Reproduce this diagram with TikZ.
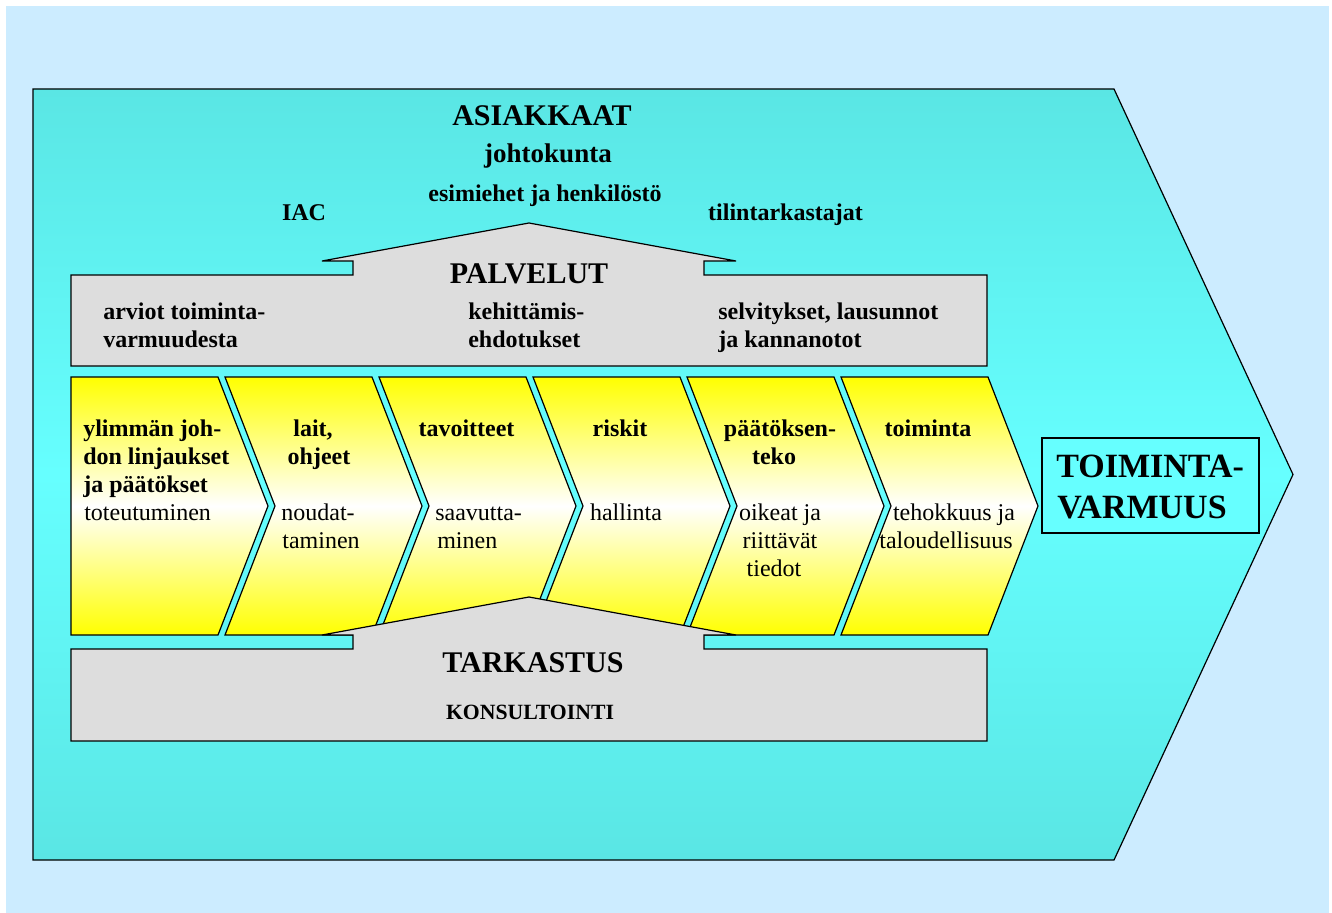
\documentclass[tikz,border=0pt]{standalone}
\usepackage{fontspec}
\setmainfont{Liberation Serif}
\definecolor{bgblue}{HTML}{CCECFF}
\definecolor{cyanedge}{HTML}{5AE6E4}
\definecolor{cyanmid}{HTML}{66FFFF}
\definecolor{boxgrey}{HTML}{DDDDDD}
\definecolor{chevyellow}{HTML}{FFFF00}
\begin{document}
\begin{tikzpicture}[x=0.75pt,y=-0.75pt,line join=miter,
  outline/.style={draw=black,line width=0.9pt},
  chevron/.style={outline,top color=chevyellow,bottom color=chevyellow,middle color=white},
  bigtxt/.style={font=\fontsize{22.5}{27}\selectfont\bfseries,inner sep=0pt,anchor=base},
  boldtxt/.style={font=\fontsize{18}{21}\selectfont\bfseries,inner sep=0pt,anchor=base},
  normtxt/.style={font=\fontsize{18}{21}\selectfont,inner sep=0pt,anchor=base},
]
\useasboundingbox (0,0) rectangle (1332,913);
\fill[white] (0,0) rectangle (1332,913);
\fill[bgblue] (6,6) rectangle (1329,913);
% big arrow
\draw[outline,top color=cyanedge,bottom color=cyanedge,middle color=cyanmid]
  (33,89) -- (1114,89) -- (1293,474.5) -- (1114,860) -- (33,860) -- cycle;
% PALVELUT
\draw[outline,fill=boxgrey] (71,275) -- (353,275) -- (353,261) -- (322,261) -- (529,223)
  -- (736,261) -- (704,261) -- (704,275) -- (987,275) -- (987,366) -- (71,366) -- cycle;
% chevrons
\draw[chevron] (71,377) -- (218,377) -- (268,506) -- (218,635) -- (71,635) -- cycle;
\draw[chevron] (225,377) -- (372,377) -- (422,506) -- (372,635) -- (225,635) -- (275,506) -- cycle;
\draw[chevron] (379,377) -- (526,377) -- (576,506) -- (526,635) -- (379,635) -- (429,506) -- cycle;
\draw[chevron] (533,377) -- (680,377) -- (730,506) -- (680,635) -- (533,635) -- (583,506) -- cycle;
\draw[chevron] (687,377) -- (834,377) -- (884,506) -- (834,635) -- (687,635) -- (737,506) -- cycle;
\draw[chevron] (841,377) -- (988,377) -- (1038,506) -- (988,635) -- (841,635) -- (891,506) -- cycle;
% TARKASTUS
\draw[outline,fill=boxgrey] (71,649) -- (353,649) -- (353,635) -- (322,635) -- (529,597)
  -- (736,635) -- (704,635) -- (704,649) -- (987,649) -- (987,741) -- (71,741) -- cycle;
% TOIMINTAVARMUUS box
\draw[outline,fill=cyanmid] (1042,438) rectangle (1259,533);
\node[font=\fontsize{25.5}{31}\selectfont\bfseries,inner sep=0pt,anchor=base west] (tv1) at (1056,477) {TOIMINTA-};
\node[font=\fontsize{25.5}{31}\selectfont\bfseries,inner sep=0pt,anchor=base west] (tv2) at (1057,518) {VARMUUS};
% top texts
\node[bigtxt] (asiak) at (542,126) {ASIAKKAAT};
\node[boldtxt,font=\fontsize{20.25}{24}\selectfont\bfseries] (johto) at (548,163) {johtokunta};
\node[boldtxt] (esim) at (545,202) {esimiehet ja henkilöstö};
\node[boldtxt] (iac) at (304,221) {IAC};
\node[boldtxt] (tilin) at (785.5,221) {tilintarkastajat};
% PALVELUT texts
\node[bigtxt] (palv) at (529,283) {PALVELUT};
\node[boldtxt,anchor=base west] (p1a) at (103,319) {arviot toiminta-};
\node[boldtxt,anchor=base west] (p1b) at (103,347) {varmuudesta};
\node[boldtxt,anchor=base west] (p2a) at (468,319) {kehittämis-};
\node[boldtxt,anchor=base west] (p2b) at (468,347) {ehdotukset};
\node[boldtxt,anchor=base west] (p3a) at (718,319) {selvitykset, lausunnot};
\node[boldtxt,anchor=base west] (p3b) at (718,347) {ja kannanotot};
% chevron 1
\node[boldtxt,anchor=base west] (c1a) at (83,436) {ylimmän joh-};
\node[boldtxt,anchor=base west] (c1b) at (83,464) {don linjaukset};
\node[boldtxt,anchor=base west] (c1c) at (83,492) {ja päätökset};
\node[normtxt,anchor=base west] (c1d) at (84,520) {toteutuminen};
% chevron 2
\node[boldtxt] (c2a) at (313,436) {lait,};
\node[boldtxt] (c2b) at (319,464) {ohjeet};
\node[normtxt] (c2c) at (318,520) {noudat-};
\node[normtxt] (c2d) at (321,548) {taminen};
% chevron 3
\node[boldtxt] (c3a) at (466.5,436) {tavoitteet};
\node[normtxt,anchor=base west] (c3b) at (435,520) {saavutta-};
\node[normtxt,anchor=base west] (c3c) at (437,548) {minen};
% chevron 4
\node[boldtxt] (c4a) at (620,436) {riskit};
\node[normtxt] (c4b) at (626,520) {hallinta};
% chevron 5
\node[boldtxt] (c5a) at (780,436) {päätöksen-};
\node[boldtxt] (c5b) at (774,464) {teko};
\node[normtxt] (c5c) at (780,520) {oikeat ja};
\node[normtxt] (c5d) at (780,548) {riittävät};
\node[normtxt] (c5e) at (774,576) {tiedot};
% chevron 6
\node[boldtxt] (c6a) at (928,436) {toiminta};
\node[normtxt] (c6b) at (954,520) {tehokkuus ja};
\node[normtxt] (c6c) at (946,548) {taloudellisuus};
% TARKASTUS texts
\node[bigtxt] (tark) at (533,672) {TARKASTUS};
\node[boldtxt,font=\fontsize{16.3}{20}\selectfont\bfseries] (kons) at (530,719) {KONSULTOINTI};
\end{tikzpicture}
\end{document}
